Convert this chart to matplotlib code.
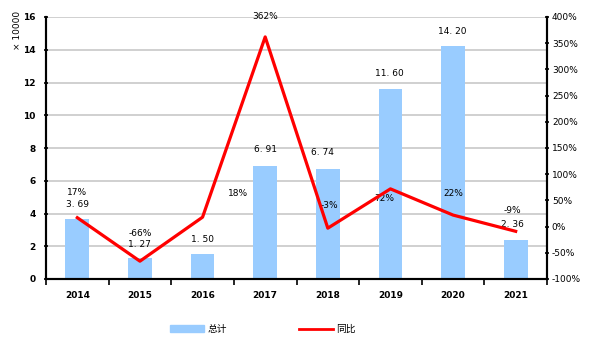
import matplotlib
matplotlib.use("Agg")
import matplotlib.pyplot as plt
import numpy as np
from matplotlib.patches import Patch
from matplotlib.lines import Line2D

years = ["2014", "2015", "2016", "2017", "2018", "2019", "2020", "2021"]
totals = [3.69, 1.27, 1.50, 6.91, 6.74, 11.60, 14.20, 2.36]
yoy = [17, -66, 18, 362, -3, 72, 22, -9]
total_labels = ["3. 69", "1. 27", "1. 50", "6. 91", "6. 74", "11. 60", "14. 20", "2. 36"]
yoy_labels = ["17%", "-66%", "18%", "362%", "-3%", "72%", "22%", "-9%"]

plt.rcParams['font.family'] = ['DejaVu Sans']
fig = plt.figure(figsize=(6.01, 3.51), dpi=100)
ax = fig.add_axes([46/601, 1-279/351, (547-46)/601, (279-17)/351])
ax2 = ax.twinx()

x = np.arange(len(years))
ax.bar(x, totals, width=0.38, color="#99CCFF", zorder=2)
ax.set_ylim(0, 16)
ax.set_yticks(range(0, 17, 2))
ax.set_xlim(-0.5, len(years)-0.5)
ax.grid(axis='y', color='#c8c8c8', lw=1.2, zorder=0)
ax.set_axisbelow(True)
ax.set_xticks(x)
ax.set_xticklabels(years, fontsize=6.5, fontweight='bold')
ax.set_xticks(np.arange(-0.5, len(years), 1), minor=True)
ax.tick_params(axis='x', which='major', length=0, pad=9)
ax.tick_params(axis='x', which='minor', length=4, direction='out', width=1.2)
ax.tick_params(axis='y', length=3, direction='inout', width=1.2, labelsize=6.5, pad=6)
for lbl in ax.get_yticklabels():
    lbl.set_fontweight('bold')

ax2.plot(x, yoy, color='#FF0000', lw=2.3, zorder=3)
ax2.set_ylim(-100, 400)
ax2.set_yticks(range(-100, 401, 50))
ax2.set_yticklabels([f"{v}%" for v in range(-100, 401, 50)])
ax2.tick_params(axis='y', length=3, direction='inout', width=1.2, labelsize=6.5, pad=2)

for a in (ax, ax2):
    a.spines['top'].set_visible(False)
    a.spines['left'].set_linewidth(1.5)
    a.spines['right'].set_linewidth(1.5)
    a.spines['bottom'].set_linewidth(1.5)

# bar value labels (positions in left-axis units)
bar_label_pos = [(0, 4.55), (1, 2.1), (2, 2.44), (3, 7.9), (3.91, 7.7), (4.98, 12.58), (5.99, 15.1), (6.95, 3.3)]
for (px, py), t in zip(bar_label_pos, total_labels):
    ax.text(px, py, t, ha='center', va='center', fontsize=6.5, zorder=5)

yoy_label_pos = [(0, 5.3), (1, 2.75), (2.57, 5.25), (3.0, 16.06), (4.03, 4.46), (4.9, 4.9), (6.0, 5.2), (6.95, 4.2)]
for (px, py), t in zip(yoy_label_pos, yoy_labels):
    ax.text(px, py, t, ha='center', va='center', fontsize=6.5, zorder=5)

fig.text(18/601, 1-30/351, "× 10000", rotation=90, ha='center', va='center', fontsize=6.5)

handles = [Patch(color="#99CCFF"), Line2D([0], [0], color='#FF0000', lw=2)]
fig.legend(handles, ["总计", "同比"], loc='center', bbox_to_anchor=(263/601, 1-329/351),
           ncol=2, frameon=False, prop={'family': ['Noto Sans CJK SC'], 'size': 7},
           columnspacing=7.5, handlelength=3.5, handletextpad=0.3)

fig.savefig("out.png", dpi=100)
